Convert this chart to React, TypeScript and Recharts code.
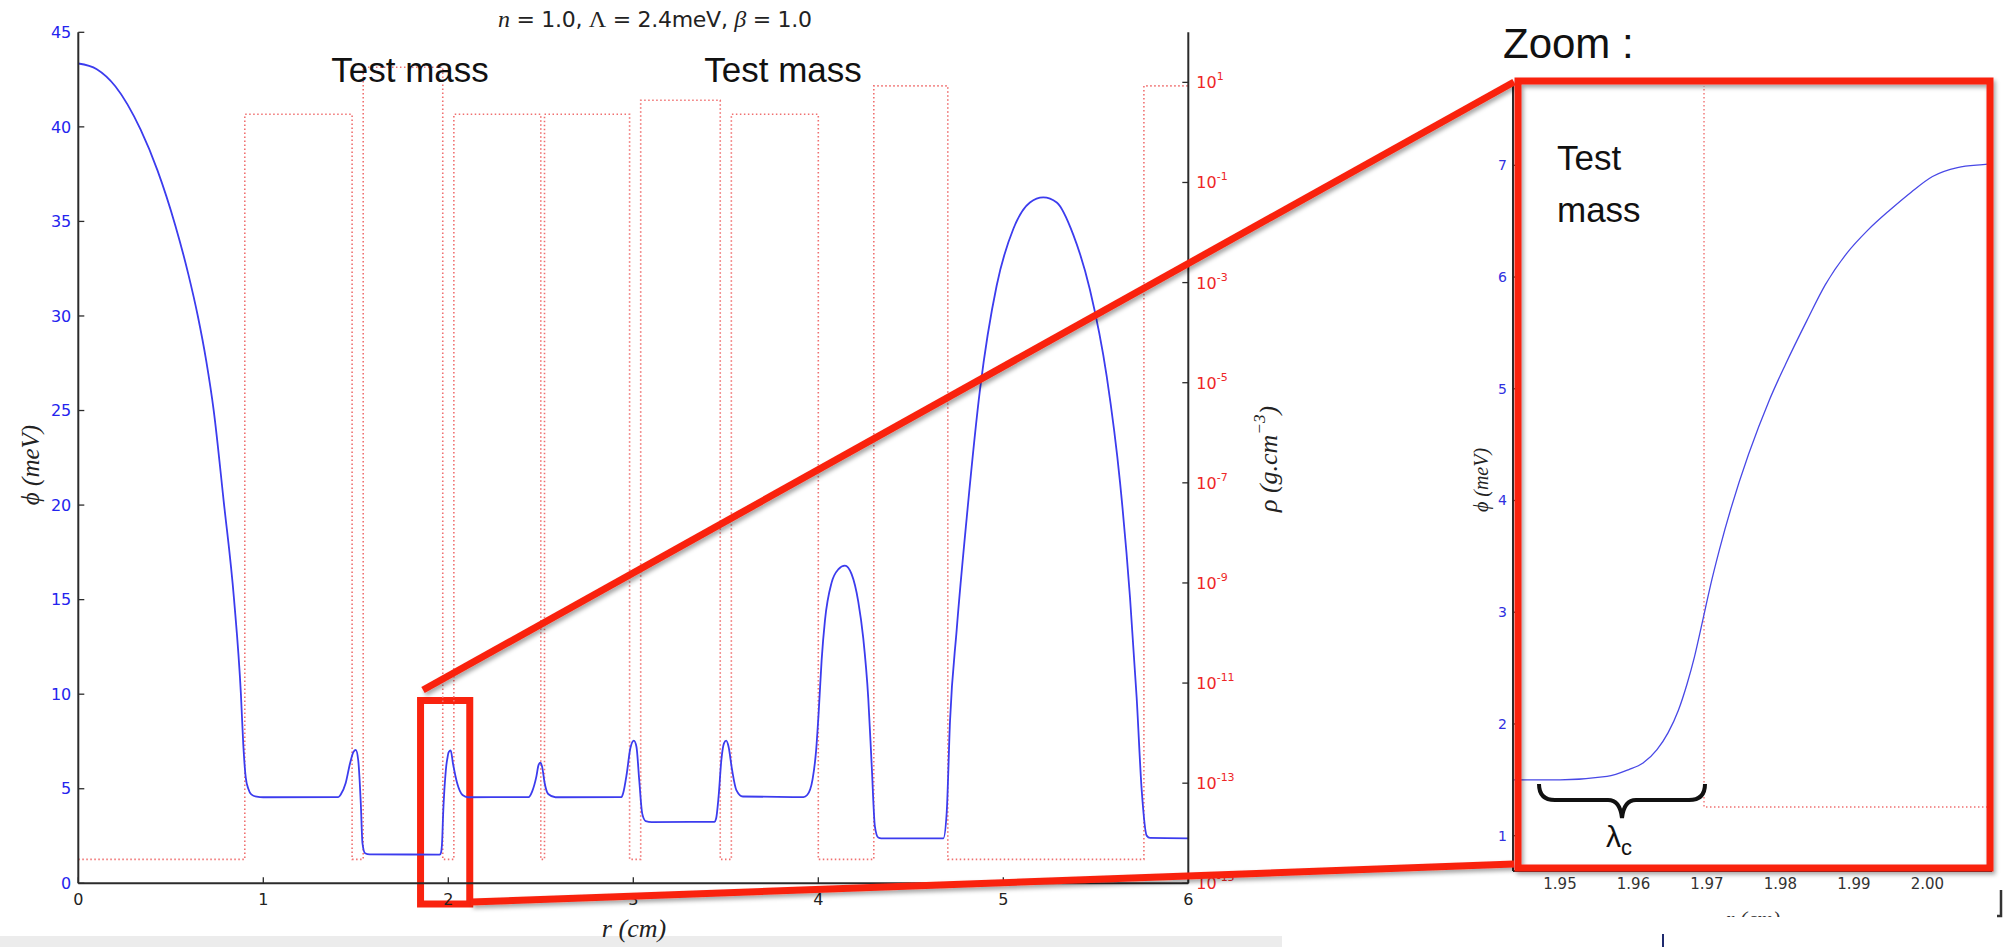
import React from 'react';
import { LineChart, Line, XAxis, YAxis, ReferenceArea } from 'recharts';

// phi(r) in meV
const phiCurve: [number, number][] = [
  [0, 43.35], [0.1, 43.05], [0.2, 42.15], [0.337, 39.85], [0.428, 37.7], [0.524, 34.8],
  [0.595, 32.2], [0.646, 30.0], [0.692, 27.6], [0.732, 25.0], [0.786, 20.2],
  [0.842, 15.0], [0.879, 10.0], [0.892, 7.3], [0.905, 5.6],
  [0.919, 5.0], [0.935, 4.7], [0.964, 4.58], [1.0, 4.55], [1.405, 4.56], [1.42, 4.72],
  [1.445, 5.29], [1.469, 6.35], [1.488, 6.96], [1.5, 7.05], [1.513, 6.52], [1.527, 4.23],
  [1.536, 2.12], [1.55, 1.59], [1.575, 1.53], [1.948, 1.52], [1.9564, 1.53], [1.9593, 1.59],
  [1.9613, 1.65], [1.9632, 1.77], [1.9647, 1.92], [1.9661, 2.12], [1.9673, 2.36], [1.9683, 2.6],
  [1.9691, 2.83], [1.9698, 3.04], [1.9705, 3.245], [1.9717, 3.56], [1.9785, 4.9],
  [1.9836, 5.61], [1.989, 6.21], [1.9949, 6.6], [2.0007, 6.9], [2.0082, 7.01], [2.013, 7.03],
  [2.025, 6.35], [2.048, 5.29], [2.077, 4.67], [2.106, 4.55], [2.434, 4.56], [2.453, 4.85],
  [2.476, 5.64], [2.488, 6.26], [2.498, 6.38], [2.507, 6.17], [2.521, 5.29], [2.54, 4.72],
  [2.579, 4.55], [2.936, 4.56], [2.945, 4.76], [2.965, 5.82], [2.984, 7.14], [3.003, 7.54],
  [3.017, 7.22], [3.032, 5.46], [3.048, 3.7], [3.067, 3.29], [3.1, 3.24], [3.438, 3.25],
  [3.448, 3.44], [3.461, 4.58], [3.476, 6.52], [3.49, 7.4], [3.502, 7.54], [3.515, 7.22],
  [3.534, 5.99], [3.557, 4.93], [3.592, 4.59], [3.92, 4.56], [3.94, 4.67], [3.969, 5.5],
  [3.988, 7.0], [4.003, 9.2], [4.018, 11.8], [4.036, 13.9], [4.072, 15.9], [4.108, 16.6],
  [4.144, 16.8], [4.18, 16.35], [4.216, 14.9], [4.243, 12.96], [4.27, 9.8], [4.289, 6.16],
  [4.306, 3.0], [4.324, 2.42], [4.34, 2.38], [4.676, 2.38], [4.694, 3.73], [4.712, 8.58],
  [4.748, 13.4], [4.802, 19.3], [4.874, 26.1], [4.964, 31.6], [5.054, 34.6], [5.144, 36.0],
  [5.216, 36.27], [5.289, 36.0], [5.378, 34.3], [5.468, 31.4], [5.559, 26.8], [5.631, 21.2],
  [5.685, 15.1], [5.721, 9.8], [5.748, 4.94], [5.775, 2.52], [5.793, 2.4], [6.0, 2.38],
];

// density profile: shell boundaries (cm) and density in each segment (g/cm3)
const shellEdges = [0, 0.9, 1.48, 1.54, 1.97, 2.03, 2.5, 2.52, 2.98, 3.04, 3.47, 3.53, 4.0, 4.3, 4.7, 5.76, 6];
const shellRho = [3e-15, 2.3, 3e-15, 20, 3e-15, 2.3, 3e-15, 2.3, 3e-15, 4.4, 3e-15, 2.3, 3e-15, 8.5, 3e-15, 8.5];

const rTicks = [0, 1, 2, 3, 4, 5, 6];
const phiTicks = [0, 5, 10, 15, 20, 25, 30, 35, 40, 45];
const rhoTicks = [1e1, 1e-1, 1e-3, 1e-5, 1e-7, 1e-9, 1e-11, 1e-13, 1e-15];

// zoom panel around the test mass edge
const zoomRange = [1.9436, 2.0088];
const zoomCurve: [number, number][] = [
  [1.9436, 1.5], [1.95, 1.5], [1.9564, 1.53], [1.9593, 1.59], [1.9613, 1.65], [1.9632, 1.77],
  [1.9647, 1.92], [1.9661, 2.12], [1.9673, 2.36], [1.9683, 2.6], [1.9691, 2.83], [1.9698, 3.04],
  [1.9705, 3.245], [1.9717, 3.56], [1.9785, 4.9], [1.9807, 5.22], [1.9836, 5.61],
  [1.9861, 5.93], [1.989, 6.21], [1.9919, 6.42], [1.9949, 6.6], [1.9978, 6.76], [2.0007, 6.9],
  [2.0041, 6.98], [2.0082, 7.01], [2.0088, 7.015],
];
const zoomEdge = 1.9696;
const zoomRhoLevels = [20, 3e-15];
const zoomRTicks = [1.95, 1.96, 1.97, 1.98, 1.99, 2.0];
const zoomPhiTicks = [1, 2, 3, 4, 5, 6, 7];

const BLUE = '#3c3cee';
const RHO = '#f07070';
const RED = '#f9230f';
const AXIS = '#2b2b2b';

const phiData = phiCurve.map(([r, phi]) => ({ r, phi }));
const rhoData = shellRho.flatMap((rho, i) => [
  { r: shellEdges[i], rho },
  { r: shellEdges[i + 1], rho },
]);
const zoomPhiData = zoomCurve.map(([r, phi]) => ({ r, phi }));
const zoomRhoData = [
  { r: zoomRange[0], rho: zoomRhoLevels[0] },
  { r: zoomEdge, rho: zoomRhoLevels[0] },
  { r: zoomEdge, rho: zoomRhoLevels[1] },
  { r: zoomRange[1], rho: zoomRhoLevels[1] },
];

const axisLine = { stroke: AXIS, strokeWidth: 2 };
const tickLine = { stroke: AXIS, strokeWidth: 1.3 };

function renderRhoTick(props: any) {
  const { x, y, payload } = props;
  const e = Math.round(Math.log10(payload.value));
  return (
    <text x={x} y={y + 6} fill="#ee2626" fontSize={16} fontFamily="DejaVu Sans" textAnchor="start">
      10<tspan dy={-8} fontSize={11}>{e}</tspan>
    </text>
  );
}

export default function App() {
  return (
    <div style={{ position: 'absolute', left: 0, top: 0, width: 2011, height: 947, background: '#fff', overflow: 'hidden' }}>
      <div style={{ position: 'absolute', left: 0, top: 0 }}>
        <LineChart width={1300} height={947} margin={{ top: 32.3, right: 21.7, bottom: 33.7, left: 18.3 }}>
          <XAxis xAxisId="b" dataKey="r" type="number" domain={[0, 6]} ticks={rTicks} interval={0}
            allowDataOverflow height={30} tickSize={-6} tickMargin={16} axisLine={axisLine} tickLine={tickLine}
            tick={{ fill: '#222', fontSize: 16, fontFamily: 'DejaVu Sans' }} />
          <XAxis xAxisId="t" orientation="top" dataKey="r" type="number" domain={[0, 6]} ticks={rTicks}
            interval={0} allowDataOverflow height={0} tickSize={-6} tick={false} axisLine={axisLine} tickLine={tickLine} />
          <YAxis yAxisId="phi" type="number" domain={[0, 45]} ticks={phiTicks} interval={0} allowDataOverflow
            width={60} tickSize={-6} tickMargin={13} axisLine={axisLine} tickLine={tickLine}
            tick={{ fill: '#2424ee', fontSize: 16, fontFamily: 'DejaVu Sans' }} />
          <YAxis yAxisId="rho" orientation="right" type="number" scale="log" domain={[1e-15, 1e2]}
            ticks={rhoTicks} interval={0} allowDataOverflow width={90} tickSize={-6} tickMargin={14}
            axisLine={axisLine} tickLine={tickLine} tick={renderRhoTick} />
          <Line xAxisId="b" yAxisId="rho" data={rhoData} dataKey="rho" type="linear" stroke={RHO}
            strokeWidth={1.6} strokeDasharray="1.5 2.5" dot={false} activeDot={false} isAnimationActive={false} />
          <Line xAxisId="b" yAxisId="phi" data={phiData} dataKey="phi" type="monotone" stroke={BLUE}
            strokeWidth={1.8} dot={false} activeDot={false} isAnimationActive={false} />
          <ReferenceArea xAxisId="b" yAxisId="phi" x1={1.85} x2={2.116} y1={-1.09} y2={9.67}
            ifOverflow="visible" fill="none" fillOpacity={0} stroke={RED} strokeWidth={7} />
        </LineChart>
      </div>

      <div style={{ position: 'absolute', left: 1430, top: 0 }}>
        <LineChart width={581} height={947} margin={{ top: 86, right: 19, bottom: 46, left: 33 }}>
          <XAxis xAxisId="b" dataKey="r" type="number" domain={zoomRange} ticks={zoomRTicks} interval={0}
            allowDataOverflow height={30} tickSize={-5} tickMargin={12} axisLine={axisLine} tickLine={tickLine}
            tickFormatter={(v: number) => v.toFixed(2)}
            tick={{ fill: '#333', fontSize: 15, fontFamily: 'DejaVu Sans' }} />
          <XAxis xAxisId="t" orientation="top" dataKey="r" type="number" domain={zoomRange} ticks={zoomRTicks}
            interval={0} allowDataOverflow height={0} tickSize={-5} tick={false} axisLine={axisLine} tickLine={tickLine} />
          <YAxis yAxisId="phi" type="number" domain={[0.684, 7.71]} ticks={zoomPhiTicks} interval={0}
            allowDataOverflow width={50} tickSize={-5} tickMargin={11} axisLine={axisLine} tickLine={tickLine}
            tick={{ fill: '#3030e0', fontSize: 14, fontFamily: 'DejaVu Sans' }} />
          <YAxis yAxisId="rho" orientation="right" hide type="number" scale="log"
            domain={[Math.pow(10, -15.9), 10]} allowDataOverflow />
          <Line xAxisId="b" yAxisId="rho" data={zoomRhoData} dataKey="rho" type="linear" stroke={RHO}
            strokeWidth={1.4} strokeDasharray="1.5 2.5" dot={false} activeDot={false} isAnimationActive={false} />
          <Line xAxisId="b" yAxisId="phi" data={zoomPhiData} dataKey="phi" type="monotone" stroke="#4848e6"
            strokeWidth={1.3} dot={false} activeDot={false} isAnimationActive={false} />
        </LineChart>
      </div>

      <svg width={2011} height={947} style={{ position: 'absolute', left: 0, top: 0, pointerEvents: 'none' }}>
        <defs>
          <filter id="redShadow" x="-10%" y="-10%" width="120%" height="120%">
            <feDropShadow dx="2" dy="3" stdDeviation="2" floodColor="#000" floodOpacity="0.35" />
          </filter>
        </defs>
        <rect x={0} y={936} width={1282} height={11} fill="#ececec" />

        <text x={498} y={27} textLength={314} lengthAdjust="spacing" fontSize={22} fill="#222" fontFamily="DejaVu Sans">
          <tspan fontFamily="Liberation Serif" fontStyle="italic" fontSize={24}>n</tspan>
          <tspan> = 1.0, </tspan>
          <tspan fontFamily="Liberation Serif" fontSize={24}>Λ</tspan>
          <tspan> = 2.4meV, </tspan>
          <tspan fontFamily="Liberation Serif" fontStyle="italic" fontSize={24}>β</tspan>
          <tspan> = 1.0</tspan>
        </text>
        <text x={634} y={937} textAnchor="middle" fontSize={26} fill="#222" fontFamily="Liberation Serif" fontStyle="italic">r (cm)</text>
        <text x={30} y={465} transform="rotate(-90 30 465)" textAnchor="middle" dominantBaseline="central"
          fontSize={25} fill="#222" fontFamily="Liberation Serif" fontStyle="italic">ϕ (meV)</text>
        <text x={1268} y={459} transform="rotate(-90 1268 459)" textAnchor="middle" dominantBaseline="central"
          fontSize={26} fill="#222" fontFamily="Liberation Serif" fontStyle="italic">
          ρ (g.cm<tspan dy={-9} fontSize={17}>−3</tspan><tspan dy={9}>)</tspan>
        </text>

        <text x={410} y={82} textAnchor="middle" fontSize={35} fill="#111" fontFamily="Liberation Sans">Test mass</text>
        <text x={783} y={82} textAnchor="middle" fontSize={35} fill="#111" fontFamily="Liberation Sans">Test mass</text>

        <g filter="url(#redShadow)" stroke={RED} strokeWidth={7} fill="none">
          <line x1={423} y1={690} x2={1514} y2={82} />
          <line x1={471} y1={902} x2={1514} y2={864} />
          <rect x={1518} y={81} width={472} height={787} />
        </g>

        <text x={1503} y={58} fontSize={42} fill="#111" fontFamily="Liberation Sans">Zoom :</text>
        <text x={1557} y={170} fontSize={35} fill="#111" fontFamily="Liberation Sans">Test</text>
        <text x={1557} y={222} fontSize={35} fill="#111" fontFamily="Liberation Sans">mass</text>

        <path d="M1539,784 Q1539,800 1555,800 L1608,800 Q1620,800 1622,818 Q1624,800 1636,800 L1689,800 Q1705,800 1705,784"
          fill="none" stroke="#111" strokeWidth={4} />
        <text x={1606} y={847} fontSize={30} fill="#111" fontFamily="Liberation Sans">
          λ<tspan dy={8} fontSize={22}>c</tspan>
        </text>

        <text x={1481} y={480} transform="rotate(-90 1481 480)" textAnchor="middle" dominantBaseline="central"
          fontSize={20} fill="#222" fontFamily="Liberation Serif" fontStyle="italic">ϕ (meV)</text>
        <text x={1753} y={926} textAnchor="middle" fontSize={22} fill="#333" fontFamily="Liberation Serif" fontStyle="italic">r (cm)</text>
        <rect x={1430} y={917} width={581} height={30} fill="#fff" />
        <line x1={1663} y1={934} x2={1663} y2={947} stroke="#1f2a6e" strokeWidth={2} />
        <path d="M2001,890 L2001,916 L1997,916" fill="none" stroke="#333" strokeWidth={2.5} />
      </svg>
    </div>
  );
}
